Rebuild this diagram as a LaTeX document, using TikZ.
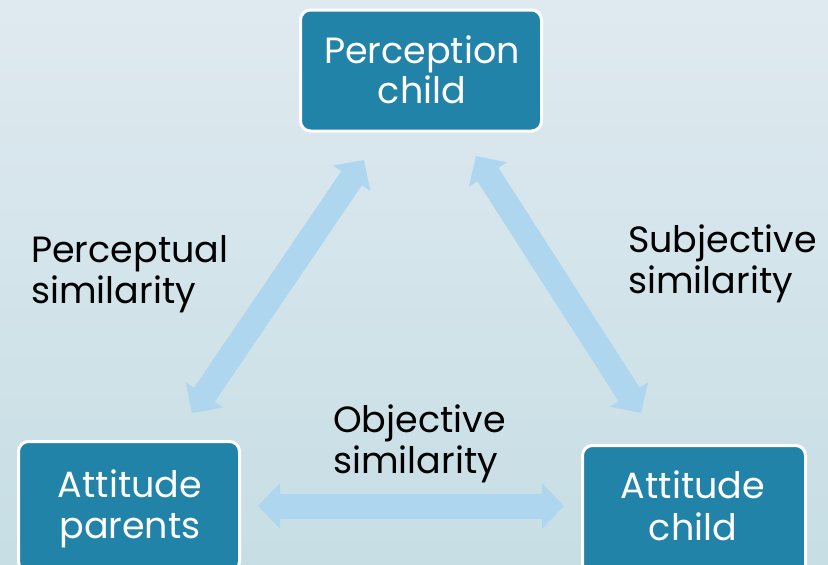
\documentclass[tikz,border=0pt]{standalone}
\usepackage{fontspec}
\setmainfont{Poppins}
\usetikzlibrary{arrows.meta}
\definecolor{bgtop}{HTML}{DFEAF0}
\definecolor{bgbot}{HTML}{C6DEE4}
\definecolor{boxblue}{HTML}{2283A8}
\definecolor{arrowblue}{HTML}{AED6EF}
\tikzset{
  box/.style={rectangle, rounded corners=10pt, draw=white, line width=3pt, fill=boxblue, inner sep=0pt},
  boxtext/.style={anchor=base, text=white, font=\fontsize{36.5}{41}\selectfont, inner sep=0pt},
  lbl/.style={anchor=base west, text=black, font=\fontsize{36.5}{41}\selectfont, inner sep=0pt},
  fatarrow/.style={draw=arrowblue, line width=25pt,
    {Triangle[length=22pt,width=44pt]}-{Triangle[length=22pt,width=44pt]}}
}
\begin{document}
\begin{tikzpicture}[x=1pt,y=-1pt]
\useasboundingbox (0,0) rectangle (828,565);
\clip (0,0) rectangle (828,565);
\fill[top color=bgtop, bottom color=bgbot] (0,0) rectangle (828,565);

% boxes
\node[box, minimum width=241pt, minimum height=121pt] (pc) at (421,70.5) {};
\node[box, minimum width=221pt, minimum height=130pt] (ap) at (129,506.5) {};
\node[box, minimum width=223pt, minimum height=130pt] (ac) at (694,510.5) {};

\node[boxtext] (pc1) at (422,63) {Perception};
\node[boxtext] (pc2) at (422,103) {child};
\node[boxtext] (ap1) at (130,497) {Attitude};
\node[boxtext] (ap2) at (130,538) {parents};
\node[boxtext] (ac1) at (693,498) {Attitude};
\node[boxtext] (ac2) at (693,540) {child};

% arrow end points
\coordinate (l1) at (192,413);
\coordinate (l2) at (364,160);
\coordinate (r1) at (476,156);
\coordinate (r2) at (641,413);
\coordinate (h1) at (258,506);
\coordinate (h2) at (564,506);

\draw[fatarrow] (l1) -- (l2);
\draw[fatarrow] (r1) -- (r2);
\draw[fatarrow] (h1) -- (h2);

% labels
\node[lbl] (pl1) at (31,262) {Perceptual};
\node[lbl] (pl2) at (31,303) {similarity};
\node[lbl] (sl1) at (628,252) {Subjective};
\node[lbl] (sl2) at (628,293) {similarity};
\node[lbl] (ol1) at (333,432) {Objective};
\node[lbl] (ol2) at (333,473) {similarity};
\end{tikzpicture}
\end{document}
